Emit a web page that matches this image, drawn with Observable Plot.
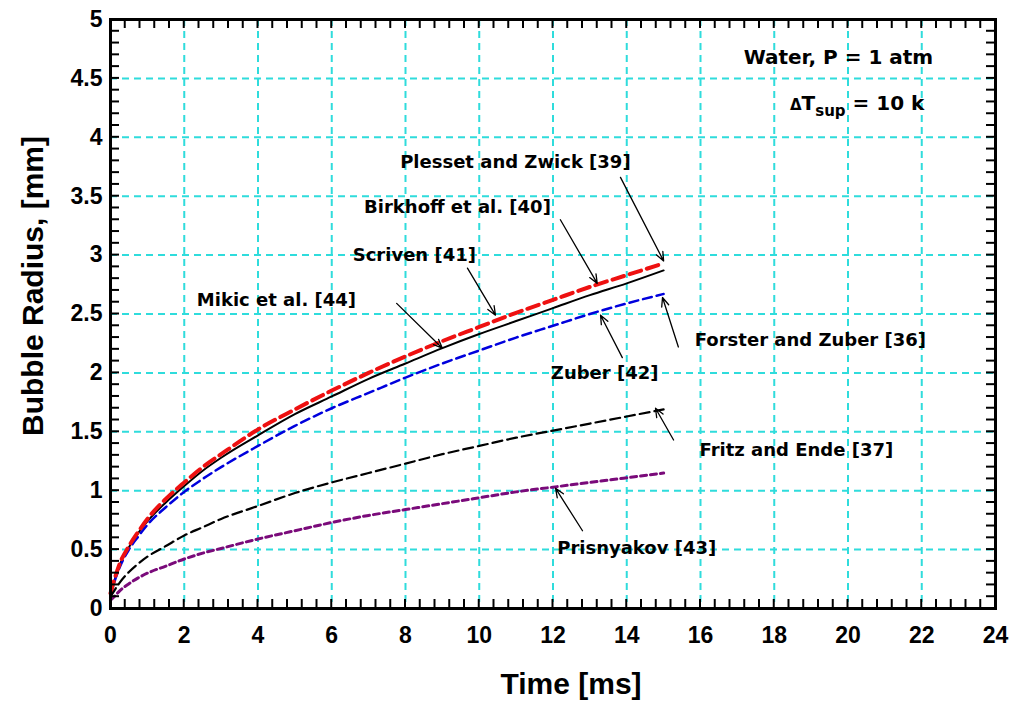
<!DOCTYPE html>
<html><head><meta charset="utf-8">
<script src="https://cdn.jsdelivr.net/npm/d3@7"></script>
<script src="https://cdn.jsdelivr.net/npm/@observablehq/plot@0.6"></script>
<style>body{margin:0;background:#fff} svg{display:block}</style>
</head><body><div id="chart"></div>
<script>
// Time [ms]
const time = [0, 0.1, 0.25, 0.5, 0.75, 1, 1.5, 2, 2.5, 3, 4, 5, 6, 7, 8, 9, 10, 11, 12, 13, 14, 15];
// Bubble radius [mm]
const plessetZwick = [0.13, 0.24, 0.38, 0.53, 0.65, 0.76, 0.93, 1.07, 1.20, 1.31, 1.52, 1.69, 1.85, 2.00, 2.14, 2.27, 2.39, 2.51, 2.62, 2.73, 2.83, 2.93];
const birkhoffScrivenMikic = [0.12, 0.23, 0.37, 0.52, 0.64, 0.74, 0.90, 1.04, 1.17, 1.28, 1.47, 1.65, 1.80, 1.95, 2.08, 2.21, 2.33, 2.44, 2.55, 2.66, 2.76, 2.87];
const forsterZuber = [0.11, 0.22, 0.35, 0.50, 0.61, 0.71, 0.86, 0.99, 1.10, 1.20, 1.38, 1.55, 1.70, 1.83, 1.96, 2.08, 2.19, 2.30, 2.40, 2.50, 2.59, 2.67];
const fritzEnde = [0.10, 0.15, 0.22, 0.31, 0.38, 0.44, 0.53, 0.62, 0.69, 0.76, 0.87, 0.98, 1.07, 1.15, 1.23, 1.31, 1.38, 1.45, 1.51, 1.57, 1.63, 1.69];
const prisnyakov = [0.07, 0.10, 0.15, 0.21, 0.26, 0.30, 0.36, 0.42, 0.47, 0.51, 0.59, 0.66, 0.73, 0.79, 0.84, 0.89, 0.94, 0.99, 1.03, 1.07, 1.11, 1.15];

const xTickLabels = [0, 2, 4, 6, 8, 10, 12, 14, 16, 18, 20, 22, 24];
const yTickLabels = [0, 0.5, 1, 1.5, 2, 2.5, 3, 3.5, 4, 4.5, 5];
const xGridLines = [2, 4, 6, 8, 10, 12, 14, 16, 18, 20, 22];
const yGridLines = [0.5, 1, 1.5, 2, 2.5, 3, 3.5, 4, 4.5];

const labelText = ["Plesset and Zwick [39]", "Birkhoff et al. [40]", "Scriven [41]", "Mikic et al. [44]", "Forster and Zuber [36]", "Zuber [42]", "Fritz and Ende [37]", "Prisnyakov [43]"];
const labelT = [10.98, 9.41, 8.24, 4.5, 18.98, 13.4, 18.6, 14.27];
const labelR = [3.79, 3.41, 3.0, 2.62, 2.28, 2.0, 1.34, 0.51];
const arrowT1 = [13.83, 12.2, 9.68, 7.76, 15.4, 13.88, 15.27, 12.8];
const arrowR1 = [3.66, 3.30, 2.89, 2.59, 2.22, 2.13, 1.43, 0.66];
const arrowT2 = [15.0, 13.2, 10.44, 9.0, 14.97, 13.29, 14.78, 12.07];
const arrowR2 = [2.95, 2.76, 2.49, 2.21, 2.64, 2.49, 1.70, 1.02];

const series = [
  {name: "Birkhoff / Scriven / Mikic", values: birkhoffScrivenMikic, stroke: "#000000", width: 2, dash: null},
  {name: "Forster and Zuber / Zuber", values: forsterZuber, stroke: "#0000dd", width: 2.5, dash: "9,5"},
  {name: "Plesset and Zwick", values: plessetZwick, stroke: "#ee1111", width: 4, dash: "12,6"},
  {name: "Fritz and Ende", values: fritzEnde, stroke: "#000000", width: 2.2, dash: "10,5"},
  {name: "Prisnyakov", values: prisnyakov, stroke: "#7a0a7a", width: 3, dash: "6,4"}
];

const labels = labelText.map((text, i) => ({text, t: labelT[i], r: labelR[i]}));
const arrows = arrowT1.map((t1, i) => ({t1, r1: arrowR1[i], t2: arrowT2[i], r2: arrowR2[i]}));
const xMinor = d3.range(61).map(i => i * 0.4);
const yMinor = d3.range(51).map(i => i / 10);

const sansFont = "Liberation Sans, Arial, sans-serif";
const tickFont = {fontFamily: sansFont, fontWeight: "bold", fontSize: 23};
const gridStyle = {stroke: "#2fdcdc", strokeOpacity: 1, strokeWidth: 2, strokeDasharray: "7,5"};

const marks = [
  Plot.gridX(xGridLines, gridStyle),
  Plot.gridY(yGridLines, gridStyle),
  ...series.map(s => Plot.line(time.map((t, i) => ({t, r: s.values[i]})), {
    x: "t", y: "r", stroke: s.stroke, strokeWidth: s.width, strokeDasharray: s.dash, curve: "monotone-x"
  })),
  Plot.arrow(arrows, {x1: "t1", y1: "r1", x2: "t2", y2: "r2", stroke: "black", strokeWidth: 1.3, headLength: 11, headAngle: 45}),
  Plot.text(labels, {x: "t", y: "r", text: "text", fontFamily: "DejaVu Sans", fontWeight: "bold", fontSize: 18, fill: "black"}),
  Plot.text(["Water, P = 1 atm"], {x: 19.74, y: 4.68, text: d => d, fontFamily: "DejaVu Sans", fontWeight: "bold", fontSize: 20, fill: "black"}),
  Plot.axisX(xTickLabels, {anchor: "bottom", tickSize: 0, tickPadding: 18, tickFormat: d => String(d), label: null, ...tickFont}),
  Plot.axisY(yTickLabels, {anchor: "left", tickSize: 0, tickPadding: 8, tickFormat: d => String(d), label: null, ...tickFont}),
  Plot.frame({stroke: "black", strokeWidth: 3}),
  Plot.text(["Time [ms]"], {frameAnchor: "bottom", dy: 85, dx: 18, text: d => d, fontFamily: sansFont, fontWeight: "bold", fontSize: 30, fill: "black"}),
  Plot.text(["Bubble Radius, [mm]"], {frameAnchor: "left", textAnchor: "middle", dx: -77, dy: -28, rotate: -90, text: d => d, fontFamily: sansFont, fontWeight: "bold", fontSize: 30, fill: "black"})
];

const chart = Plot.plot({
  width: 1013, height: 701,
  marginLeft: 110, marginRight: 18, marginTop: 19, marginBottom: 93,
  x: {domain: [0, 24], label: null},
  y: {domain: [0, 5], label: null},
  style: {background: "white", overflow: "visible"},
  marks
});
document.getElementById("chart").appendChild(chart);

const svg = d3.select(chart.tagName.toLowerCase() === "svg" ? chart : chart.querySelector("svg"));
const xs = chart.scale("x"), ys = chart.scale("y");
const x0 = xs.apply(0), x1 = xs.apply(24), y0 = ys.apply(0), y1 = ys.apply(5);
const L = 9;

// inner ticks on all four sides, positioned with the plot's own scales
const ticks = svg.append("g").attr("stroke", "black").attr("stroke-width", 2);
for (const v of xMinor) {
  const px = xs.apply(v);
  ticks.append("line").attr("x1", px).attr("x2", px).attr("y1", y0).attr("y2", y0 - L);
  ticks.append("line").attr("x1", px).attr("x2", px).attr("y1", y1).attr("y2", y1 + L);
}
for (const v of yMinor) {
  const py = ys.apply(v);
  ticks.append("line").attr("y1", py).attr("y2", py).attr("x1", x0).attr("x2", x0 + L);
  ticks.append("line").attr("y1", py).attr("y2", py).attr("x1", x1).attr("x2", x1 - L);
}

// ΔT_sup annotation
const t = svg.append("text")
  .attr("x", xs.apply(18.44)).attr("y", ys.apply(4.29))
  .attr("dy", "0.35em").attr("text-anchor", "start")
  .attr("font-family", "DejaVu Sans").attr("font-weight", "bold").attr("font-size", 20).attr("fill", "black");
t.append("tspan").attr("font-size", 15).text("Δ");
t.append("tspan").text("T");
t.append("tspan").attr("font-size", 15).attr("dy", 6).text("sup");
t.append("tspan").attr("dy", -6).text(" = 10 k");
</script>
</body></html>
